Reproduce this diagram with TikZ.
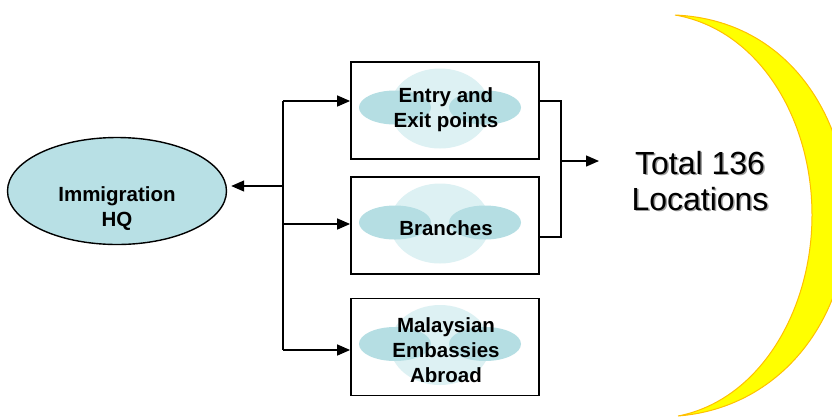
\documentclass[tikz,border=0pt]{standalone}
\usepackage{fontspec}
\setmainfont{Liberation Sans}
\usetikzlibrary{shapes.geometric,arrows.meta,calc}
\definecolor{hqfill}{HTML}{B8E0E5}
\definecolor{decolight}{HTML}{DDF1F3}
\definecolor{decodark}{HTML}{B5DEE3}
\definecolor{moonfill}{HTML}{FFFF00}
\definecolor{moonedge}{HTML}{FFC000}
\definecolor{shadowgray}{HTML}{A0A0A0}
\begin{document}
\begin{tikzpicture}[x=1pt,y=-1pt,
  line width=1.4pt,
  arr/.style={-{Triangle[length=13pt,width=11pt]}},
  boxdeco/.style={path picture={
      \fill[decolight] ($(path picture bounding box.center)+(-5,-2)$) ellipse[x radius=50pt,y radius=40pt];
      \fill[decodark] ($(path picture bounding box.center)+(-50,-3)$) ellipse[x radius=36pt,y radius=17pt];
      \fill[decodark] ($(path picture bounding box.center)+(40,-3)$) ellipse[x radius=36pt,y radius=17pt];
  }},
  unitbox/.style={draw=black,line width=1.8pt,fill=white,minimum width=188pt,minimum height=97pt,
      inner sep=0pt,boxdeco},
  unittext/.style={font=\fontsize{20.5pt}{25pt}\selectfont\bfseries,align=center,inner sep=0pt},
  totaltext/.style={font=\fontsize{32pt}{36pt}\selectfont,align=center,inner sep=0pt}
]
\useasboundingbox (0,0) rectangle (832,416);

% crescent
\begin{scope}
\clip (0,0) rectangle (832,416);
\draw[fill=moonfill,draw=moonedge,line width=1pt]
  (675,15) .. controls (790,20) and (848,120) .. (848,215)
           .. controls (848,320) and (780,408) .. (678,416)
           .. controls (760,400) and (812,310) .. (812,215)
           .. controls (812,120) and (760,30) .. (675,15) -- cycle;
\end{scope}

% HQ
\node[ellipse,draw=black,line width=1.4pt,fill=hqfill,minimum width=219pt,minimum height=107pt,inner sep=0pt]
  (hq) at (117,191) {};
\node[unittext] (hqtext) at (117,209) {Immigration\\HQ};

% boxes
\node[unitbox] (b1) at (445,110.5) {};
\node[unittext] (b1text) at (446,110) {Entry and\\Exit points};
\node[unitbox] (b2) at (445,225.5) {};
\node[unittext] (b2text) at (446,228) {Branches};
\node[unitbox] (b3) at (445,347) {};
\node[unittext] (b3text) at (446,350) {Malaysian\\Embassies\\Abroad};

% total
\node[totaltext,text=shadowgray] (totalshadow) at (701.5,182.5) {Total 136\\Locations};
\node[totaltext] (total) at (700,181) {Total 136\\Locations};

% left tree
\coordinate (t1) at (283,101);
\coordinate (tm) at (283,186);
\coordinate (t2) at (283,224);
\coordinate (t3) at (283,350);
\draw (t1) -- (t3);
\draw[arr,shorten >=4pt] (tm) -- (tm -| hq.east);
\draw[arr] (t1) -- (t1 -| b1.west);
\draw[arr] (t2) -- (t2 -| b2.west);
\draw[arr] (t3) -- (t3 -| b3.west);

% right join
\coordinate (r1) at (561,101);
\coordinate (r2) at (561,237);
\coordinate (rm) at (561,161);
\coordinate (rt) at (599,161);
\draw (r1 -| b1.east) -- (r1) -- (r2) -- (r2 -| b2.east);
\draw[arr] (rm) -- (rt);
\end{tikzpicture}
\end{document}
